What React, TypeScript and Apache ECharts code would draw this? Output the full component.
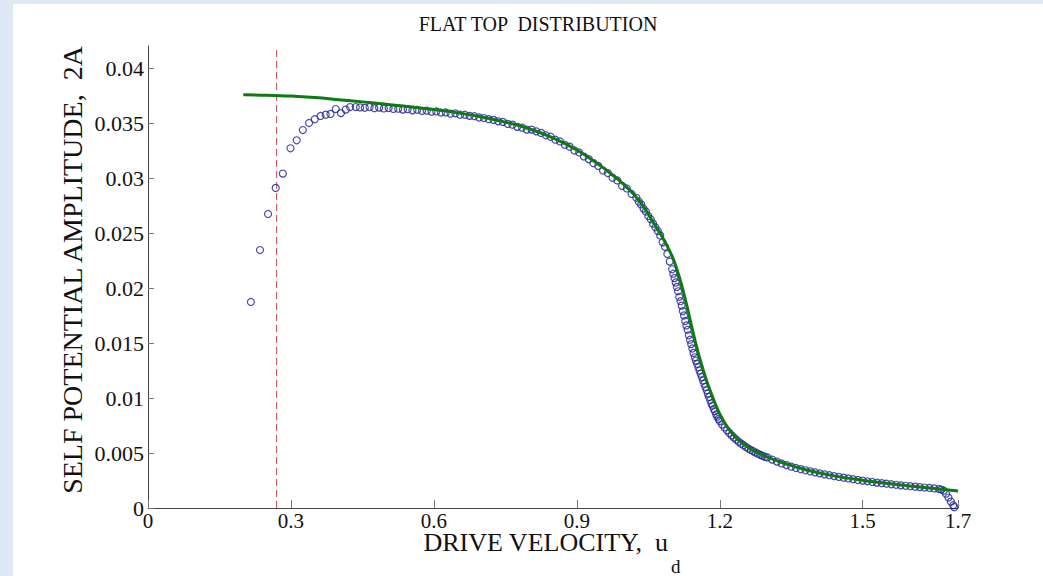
import React, { useEffect, useRef } from "react";
import * as echarts from "echarts";

const titleText = "FLAT TOP  DISTRIBUTION";
const xTitle = "DRIVE VELOCITY,  u";
const xTitleSub = "d";
const yTitle = "SELF POTENTIAL AMPLITUDE,  2A";

const xTicks = [0, 0.3, 0.6, 0.9, 1.2, 1.5, 1.7];
const yTicks = [0, 0.005, 0.01, 0.015, 0.02, 0.025, 0.03, 0.035, 0.04];

const cutoffU = 0.27;

// measured amplitude (open circles)
const sweepU = [
  0.216, 0.235, 0.252, 0.268, 0.283, 0.299, 0.312, 0.325, 0.338, 0.35, 0.362, 0.373, 0.383, 0.394, 0.405, 0.415, 0.424, 0.436,
  0.445, 0.455, 0.465, 0.475, 0.485, 0.495, 0.505, 0.515, 0.525, 0.535, 0.545, 0.555, 0.565, 0.575, 0.585, 0.595,
  0.605, 0.615, 0.625, 0.635, 0.645, 0.655, 0.665, 0.675, 0.685, 0.695, 0.705, 0.715, 0.725, 0.735, 0.745, 0.755,
  0.765, 0.775, 0.785, 0.795, 0.805, 0.815, 0.825, 0.835, 0.845, 0.855, 0.865, 0.875, 0.885, 0.895, 0.905, 0.915,
  0.925, 0.935, 0.945, 0.955, 0.965, 0.975, 0.985, 0.995, 1.005, 1.015, 1.025,
  1.03, 1.035, 1.04, 1.045, 1.05, 1.055, 1.06, 1.065, 1.07, 1.075, 1.08, 1.085, 1.09, 1.095, 1.1,
  1.1025, 1.105, 1.1075, 1.11, 1.1125, 1.115, 1.1175, 1.12, 1.1225, 1.125, 1.1275, 1.13, 1.1325, 1.135, 1.1375,
  1.14, 1.1425, 1.145, 1.1475, 1.15, 1.1525, 1.155, 1.1575, 1.16, 1.1625, 1.165, 1.1675, 1.17, 1.1725, 1.175,
  1.1775, 1.18, 1.1825, 1.185, 1.1875, 1.19, 1.1925, 1.195, 1.1975, 1.2,
  1.205, 1.21, 1.215, 1.22, 1.225, 1.23, 1.235, 1.24, 1.245, 1.25, 1.255, 1.26, 1.265, 1.27, 1.275, 1.28, 1.285,
  1.29, 1.295, 1.3,
  1.31, 1.32, 1.33, 1.34, 1.35, 1.36, 1.37, 1.38, 1.39, 1.4, 1.41, 1.42, 1.43, 1.44, 1.45, 1.46, 1.47, 1.48, 1.49,
  1.5, 1.51, 1.52, 1.53, 1.54, 1.55, 1.56, 1.57, 1.58, 1.59, 1.6, 1.61, 1.62, 1.63, 1.64, 1.65, 1.66, 1.665,
  1.67, 1.675, 1.68, 1.685, 1.69, 1.692,
];
const sweepAmp = [
  0.01873, 0.02345, 0.02673, 0.0291, 0.0304, 0.0327, 0.03343, 0.03436, 0.035, 0.03534, 0.03564, 0.03576, 0.03582, 0.03627, 0.0359, 0.03622, 0.03645, 0.03645,
  0.03642, 0.03638, 0.03645, 0.03635, 0.0364, 0.03632, 0.03636, 0.03628, 0.0363, 0.03622, 0.03626, 0.03615, 0.0362, 0.0361, 0.03612, 0.03602,
  0.03605, 0.03595, 0.03596, 0.03585, 0.03588, 0.03575, 0.03575, 0.03565, 0.03562, 0.0355, 0.03545, 0.03535, 0.03528, 0.03515, 0.0351, 0.03492,
  0.03485, 0.03465, 0.03458, 0.0344, 0.0344, 0.03424, 0.0341, 0.03388, 0.03375, 0.03348, 0.03332, 0.03302, 0.03285, 0.0325, 0.03232, 0.03195,
  0.03172, 0.03135, 0.0311, 0.03068, 0.03045, 0.03002, 0.02978, 0.02928, 0.02905, 0.02855, 0.0282,
  0.02785, 0.0276, 0.02722, 0.02695, 0.02655, 0.02625, 0.02585, 0.02552, 0.02518, 0.02478, 0.02415, 0.02375, 0.0231, 0.0224, 0.0217,
  0.0213, 0.0209, 0.0205, 0.0201, 0.0197, 0.0192, 0.0188, 0.0184, 0.0179, 0.0175, 0.017, 0.0166, 0.0162, 0.0157, 0.0153,
  0.0149, 0.0145, 0.0141, 0.0137, 0.0134, 0.0131, 0.0128, 0.0125, 0.0122, 0.0119, 0.0116, 0.0113, 0.011, 0.0107, 0.0104,
  0.0101, 0.0098, 0.0095, 0.0093, 0.009, 0.0088, 0.0085, 0.0083, 0.0081, 0.0079,
  0.0076, 0.00732, 0.00706, 0.00683, 0.0066, 0.0064, 0.0062, 0.00602, 0.00585, 0.0057, 0.00555, 0.00541, 0.00528, 0.00516, 0.00505, 0.00494, 0.00483,
  0.00474, 0.00464, 0.0046,
  0.0044, 0.00422, 0.00405, 0.0039, 0.00376, 0.00364, 0.00353, 0.00343, 0.00333, 0.00324, 0.00315, 0.00306, 0.00298, 0.0029, 0.00283, 0.00276, 0.00269, 0.00262, 0.00255,
  0.00249, 0.00243, 0.00237, 0.00231, 0.00226, 0.00221, 0.00216, 0.00211, 0.00206, 0.00202, 0.00198, 0.00194, 0.0019, 0.00186, 0.00182, 0.00178, 0.00173, 0.00168,
  0.00158, 0.0013, 0.00095, 0.00058, 0.00025, 0.00008,
];

// theoretical curve (green)
const fitU = [
  0.2, 0.25, 0.3, 0.35, 0.4, 0.45, 0.5, 0.55, 0.6, 0.65, 0.7, 0.75, 0.8, 0.85, 0.9, 0.95, 0.98, 1.0, 1.02, 1.04, 1.06,
  1.08, 1.1, 1.11, 1.12, 1.13, 1.14, 1.15, 1.16, 1.17, 1.18, 1.19, 1.2, 1.22, 1.24, 1.27, 1.3, 1.34, 1.38, 1.44, 1.5,
  1.55, 1.6, 1.65, 1.7,
];
const fitAmp = [
  0.03757, 0.03753, 0.03745, 0.03731, 0.03712, 0.03692, 0.0367, 0.03648, 0.03622, 0.03592, 0.03555, 0.03508, 0.03448,
  0.03365, 0.03255, 0.0311, 0.0301, 0.02935, 0.0285, 0.0274, 0.026, 0.0246, 0.0229, 0.0217, 0.02025, 0.01855, 0.0167,
  0.0149, 0.0133, 0.0119, 0.01065, 0.00955, 0.00855, 0.0071, 0.00615, 0.00525, 0.00462, 0.004, 0.00348, 0.00292,
  0.00252, 0.00224, 0.002, 0.00178, 0.00155,
];

const X_MIN = 0;
const X_MAX = 1.7;
const Y_MIN = 0;
const Y_MAX = 0.042;

export default function App() {
  const ref = useRef<HTMLDivElement>(null);
  useEffect(() => {
    if (!ref.current) return;
    const chart = echarts.init(ref.current, null, { renderer: "svg" });
    const serif = "'Liberation Serif', 'Times New Roman', serif";
    const option: any = {
      animation: false,
      backgroundColor: "#dfe9f5",
      grid: { left: 148, right: 85, top: 46, bottom: 68, containLabel: false },
      graphic: [
        { type: "rect", z: -10, silent: true, shape: { x: 13, y: 4, width: 1030, height: 572 }, style: { fill: "#ffffff" } },
        {
          type: "text", x: 538, y: 24,
          style: { text: titleText, fontFamily: serif, fontSize: 20, fill: "#111", textAlign: "center", textVerticalAlign: "middle" },
        },
        {
          type: "text", x: 668, y: 542,
          style: { text: xTitle, fontFamily: serif, fontSize: 26, fill: "#111", textAlign: "right", textVerticalAlign: "middle" },
        },
        {
          type: "text", x: 671, y: 576,
          style: { text: xTitleSub, fontFamily: serif, fontSize: 19, fill: "#111", textAlign: "left", textVerticalAlign: "bottom" },
        },
        {
          type: "text", x: 72, y: 270, rotation: Math.PI / 2,
          style: { text: yTitle, fontFamily: serif, fontSize: 28, fill: "#111", textAlign: "center", textVerticalAlign: "middle" },
        },
      ],
      xAxis: {
        type: "value", min: X_MIN, max: X_MAX,
        splitLine: { show: false },
        axisLine: { show: true, onZero: false, lineStyle: { color: "#444", width: 1 } },
        axisTick: { show: true, inside: true, length: 8, customValues: xTicks, lineStyle: { color: "#777" } },
        axisLabel: {
          customValues: xTicks, margin: 2, fontFamily: serif, fontSize: 21, color: "#111",
          formatter: (v: number) => (v === 0 ? "0" : String(+v.toFixed(1))),
        },
      },
      yAxis: {
        type: "value", min: Y_MIN, max: Y_MAX,
        splitLine: { show: false },
        axisLine: { show: true, onZero: false, lineStyle: { color: "#444", width: 1 } },
        axisTick: { show: true, inside: true, length: 6, customValues: yTicks, lineStyle: { color: "#777" } },
        axisLabel: {
          customValues: yTicks, margin: 4, fontFamily: serif, fontSize: 22, color: "#111",
          formatter: (v: number) => (v === 0 ? "0" : String(+v.toFixed(3))),
        },
      },
      series: [
        {
          type: "line", silent: true, showSymbol: false, z: 1,
          data: [[cutoffU, Y_MIN], [cutoffU, Y_MAX]],
          lineStyle: { color: "#c8404c", width: 1, type: [7, 4] },
        },
        {
          type: "scatter", z: 2, symbol: "circle", symbolSize: 7,
          data: sweepU.map((u, i) => [u, sweepAmp[i]]),
          itemStyle: { color: "rgba(0,0,0,0)", borderColor: "#1f1f96", borderWidth: 1.2 },
        },
        {
          type: "line", z: 3, showSymbol: false, smooth: 0.4,
          data: fitU.map((u, i) => [u, fitAmp[i]]),
          lineStyle: { color: "#0d7a12", width: 3 },
        },
      ],
    };
    chart.setOption(option);
    return () => chart.dispose();
  }, []);
  return <div ref={ref} style={{ position: "fixed", left: 0, top: 0, width: 1043, height: 576 }} />;
}
